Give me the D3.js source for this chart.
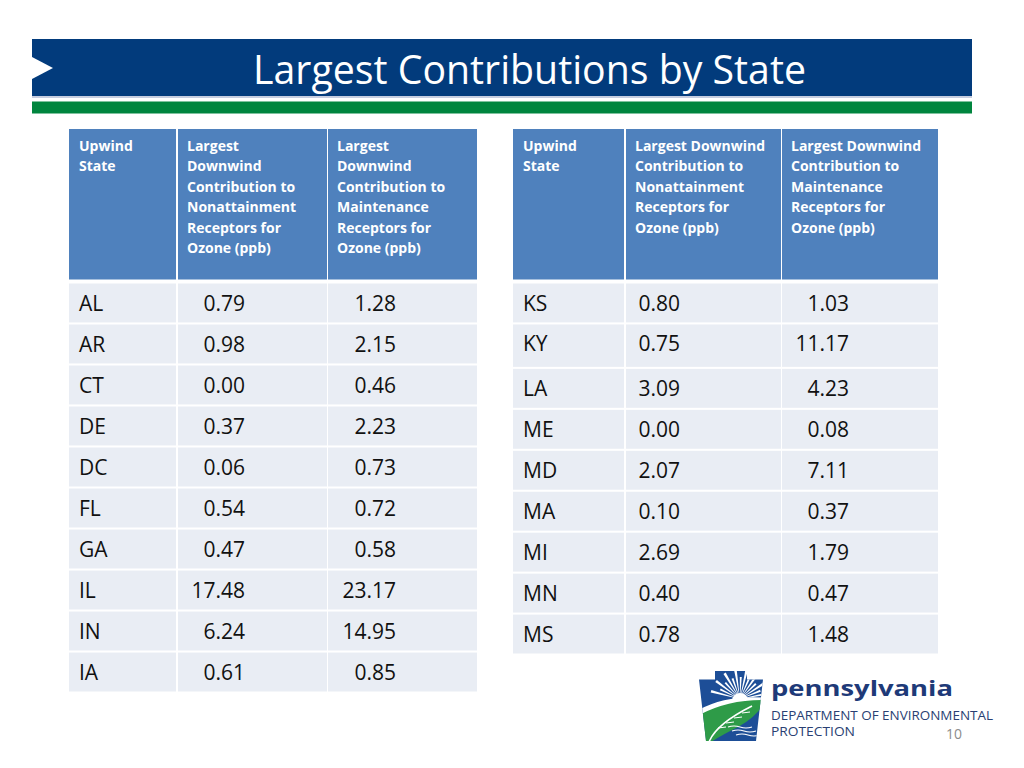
<!DOCTYPE html>
<html>
<head>
<meta charset="utf-8">
<script src="https://cdn.jsdelivr.net/npm/d3@7"></script>
<style>
  html, body { margin: 0; padding: 0; background: #ffffff; }
  svg { display: block; }
</style>
</head>
<body>
<svg id="chart" width="1024" height="768"></svg>
<script>
// ---------------- DATA ----------------
const titleText = "Largest Contributions by State";

const leftHeaders = [
  ["Upwind", "State"],
  ["Largest", "Downwind", "Contribution to", "Nonattainment", "Receptors for", "Ozone (ppb)"],
  ["Largest", "Downwind", "Contribution to", "Maintenance", "Receptors for", "Ozone (ppb)"]
];
const rightHeaders = [
  ["Upwind", "State"],
  ["Largest Downwind", "Contribution to", "Nonattainment", "Receptors for", "Ozone (ppb)"],
  ["Largest Downwind", "Contribution to", "Maintenance", "Receptors for", "Ozone (ppb)"]
];

const leftStates      = ["AL", "AR", "CT", "DE", "DC", "FL", "GA", "IL", "IN", "IA"];
const leftNonattain   = [0.79, 0.98, 0.00, 0.37, 0.06, 0.54, 0.47, 17.48, 6.24, 0.61];
const leftMaintenance = [1.28, 2.15, 0.46, 2.23, 0.73, 0.72, 0.58, 23.17, 14.95, 0.85];

const rightStates      = ["KS", "KY", "LA", "ME", "MD", "MA", "MI", "MN", "MS"];
const rightNonattain   = [0.80, 0.75, 3.09, 0.00, 2.07, 0.10, 2.69, 0.40, 0.78];
const rightMaintenance = [1.03, 11.17, 4.23, 0.08, 7.11, 0.37, 1.79, 0.47, 1.48];

const logoName = "pennsylvania";
const logoLines = ["DEPARTMENT OF ENVIRONMENTAL", "PROTECTION"];
const pageNumber = "10";

// ---------------- STYLE ----------------
const C = {
  bar: "#023B7C",
  barLine: "#C6CDE0",
  green: "#00853E",
  head: "#4F81BD",
  cell: "#E9EDF4",
  text: "#111111",
  logoBlue: "#1D4E97",
  logoText: "#1E3A78",
  logoText2: "#2A3F73",
  leaf: "#2E9B48",
  grey: "#8C8C8C"
};
const FONT = "'Open Sans', 'Noto Sans', sans-serif";

const svg = d3.select("#chart");

// fit a text element to a target width by adjusting its font size
function fitWidth(sel, target) {
  const node = sel.node();
  const fs = parseFloat(sel.attr("font-size"));
  const w = node.getComputedTextLength();
  sel.attr("font-size", (fs * target / w).toFixed(2));
}

// ---------------- TITLE BAR ----------------
svg.append("rect").attr("x", 32).attr("y", 39).attr("width", 940).attr("height", 57).attr("fill", C.bar);
svg.append("rect").attr("x", 32).attr("y", 96).attr("width", 940).attr("height", 2).attr("fill", C.barLine);
svg.append("rect").attr("x", 32).attr("y", 101.5).attr("width", 940).attr("height", 12).attr("fill", C.green);
svg.append("path").attr("d", "M32,57 L53,68 L32,79 Z").attr("fill", "#ffffff");

const title = svg.append("text")
  .attr("x", 529.5).attr("y", 84)
  .attr("text-anchor", "middle")
  .attr("font-family", FONT)
  .attr("font-size", 40)
  .attr("fill", "#ffffff")
  .text(titleText);
fitWidth(title, 553);

// ---------------- TABLES ----------------
function drawTable(cfg) {
  const g = svg.append("g");
  const x = d3.scaleOrdinal().domain([0, 1, 2]).range(cfg.colLeft);
  const colW = i => cfg.colRight[i] - cfg.colLeft[i];

  // header cells
  cfg.headers.forEach((lines, i) => {
    g.append("rect")
      .attr("x", x(i) + (i === 0 ? 0 : 1)).attr("y", cfg.headTop)
      .attr("width", colW(i) - (i === 0 ? 1 : 1)).attr("height", cfg.headBottom - cfg.headTop)
      .attr("fill", C.head);
    const t = g.append("text")
      .attr("font-family", FONT).attr("font-weight", 700)
      .attr("font-size", 14).attr("fill", "#ffffff");
    t.selectAll("tspan").data(lines).join("tspan")
      .attr("x", x(i) + 10)
      .attr("y", (d, k) => cfg.headTop + 21.5 + k * 20.5)
      .text(d => d);
  });

  // rows
  const n = cfg.states.length;
  const y = d3.scaleBand().domain(d3.range(n)).range(cfg.rowRange).paddingInner(0.05).paddingOuter(0);
  const extra = cfg.extraRow;   // one row drawn taller
  const top = i => y(i) + (extra != null && i > extra ? cfg.extraPx : 0);
  const h = i => y.bandwidth() + (i === extra ? cfg.extraPx : 0);

  const rows = g.selectAll("g.row").data(d3.range(n)).join("g").attr("class", "row");
  [0, 1, 2].forEach(c => {
    rows.append("rect")
      .attr("x", x(c) + (c === 0 ? 0 : 1))
      .attr("y", i => top(i))
      .attr("width", colW(c) - 1)
      .attr("height", i => h(i))
      .attr("fill", C.cell);
  });
  const base = i => top(i) + 27;
  rows.append("text")
    .attr("x", x(0) + 10).attr("y", base)
    .attr("font-family", FONT).attr("font-size", 21).attr("fill", C.text)
    .text(i => cfg.states[i]);
  rows.append("text")
    .attr("x", x(1) + cfg.valOffset[0]).attr("y", base)
    .attr("text-anchor", "end")
    .attr("font-family", FONT).attr("font-size", 21).attr("fill", C.text)
    .text(i => cfg.v1[i].toFixed(2));
  rows.append("text")
    .attr("x", x(2) + cfg.valOffset[1]).attr("y", base)
    .attr("text-anchor", "end")
    .attr("font-family", FONT).attr("font-size", 21).attr("fill", C.text)
    .text(i => cfg.v2[i].toFixed(2));
}

drawTable({
  colLeft: [69, 177, 327], colRight: [177, 327, 477],
  headTop: 129, headBottom: 279.5,
  headers: leftHeaders,
  states: leftStates, v1: leftNonattain, v2: leftMaintenance,
  rowRange: [283.5, 691.5], extraRow: null, extraPx: 0,
  valOffset: [68, 69]
});

drawTable({
  colLeft: [513, 625, 781], colRight: [625, 781, 938],
  headTop: 129, headBottom: 279.5,
  headers: rightHeaders,
  states: rightStates, v1: rightNonattain, v2: rightMaintenance,
  rowRange: [283.5, 650], extraRow: 1, extraPx: 3.5,
  valOffset: [55, 68]
});

// ---------------- LOGO ----------------
const logo = svg.append("g");
const keystone = "M715,671 L747,671 L747,679.5 L763,679.5 L756,741 L706,741 L699,679.5 L715,679.5 Z";
logo.append("clipPath").attr("id", "ks").append("path").attr("d", keystone);
logo.append("path").attr("d", keystone).attr("fill", C.logoBlue);
const inner = logo.append("g").attr("clip-path", "url(#ks)");
// sun rays
const sun = [740, 699];
const rayAngles = d3.range(195, 350, 11);
inner.selectAll("path.ray").data(rayAngles).join("path")
  .attr("class", "ray")
  .attr("d", a => {
    const r = a * Math.PI / 180, L = (a % 2 ? 30 : 22), w = 0.045;
    const p1 = [sun[0] + L * Math.cos(r - w), sun[1] + L * Math.sin(r - w)];
    const p2 = [sun[0] + L * Math.cos(r + w), sun[1] + L * Math.sin(r + w)];
    return `M${sun[0]},${sun[1]} L${p1[0]},${p1[1]} L${p2[0]},${p2[1]} Z`;
  })
  .attr("fill", "#ffffff");
inner.append("circle").attr("cx", sun[0]).attr("cy", sun[1] + 2).attr("r", 8).attr("fill", "#ffffff");
// white hill band
inner.append("path")
  .attr("d", "M695,712 Q725,694 768,698 L768,703 Q728,701 695,718 Z")
  .attr("fill", "#ffffff");
// green leaf
inner.append("path")
  .attr("d", "M697,716 Q728,699 766,700 Q758,716 738,727 Q722,735 711,742 L697,742 Z")
  .attr("fill", C.leaf);
// feather quill
inner.append("path")
  .attr("d", "M709,742 Q716,724 752,706")
  .attr("fill", "none").attr("stroke", "#ffffff").attr("stroke-width", 1.6);
inner.selectAll("path.barb").data([0, 1, 2, 3]).join("path")
  .attr("class", "barb")
  .attr("d", k => `M${718 + k * 8},${728 - k * 5} l${8},${-1}`)
  .attr("stroke", "#ffffff").attr("stroke-width", 1).attr("fill", "none");
// water waves
inner.selectAll("path.wave").data([0, 1, 2]).join("path")
  .attr("class", "wave")
  .attr("d", k => `M${728 + k * 4},${727 + k * 4} q6,-2 12,0 t12,0`)
  .attr("stroke", "#ffffff").attr("stroke-width", 1.1).attr("fill", "none");

const nm = logo.append("text")
  .attr("x", 771).attr("y", 696)
  .attr("font-family", FONT).attr("font-weight", 700)
  .attr("font-size", 22).attr("fill", C.logoText)
  .text(logoName);
nm.attr("textLength", 182).attr("lengthAdjust", "spacingAndGlyphs");

logo.selectAll("text.dep").data(logoLines).join("text")
  .attr("class", "dep")
  .attr("x", 771)
  .attr("y", (d, i) => 719.5 + i * 16.5)
  .attr("font-family", FONT).attr("font-size", 13)
  .attr("fill", C.logoText2)
  .attr("textLength", (d, i) => i === 0 ? 222 : 84)
  .attr("lengthAdjust", "spacingAndGlyphs")
  .text(d => d);

svg.append("text")
  .attr("x", 946).attr("y", 738.5)
  .attr("font-family", FONT).attr("font-size", 14)
  .attr("fill", C.grey)
  .text(pageNumber);
</script>
</body>
</html>
